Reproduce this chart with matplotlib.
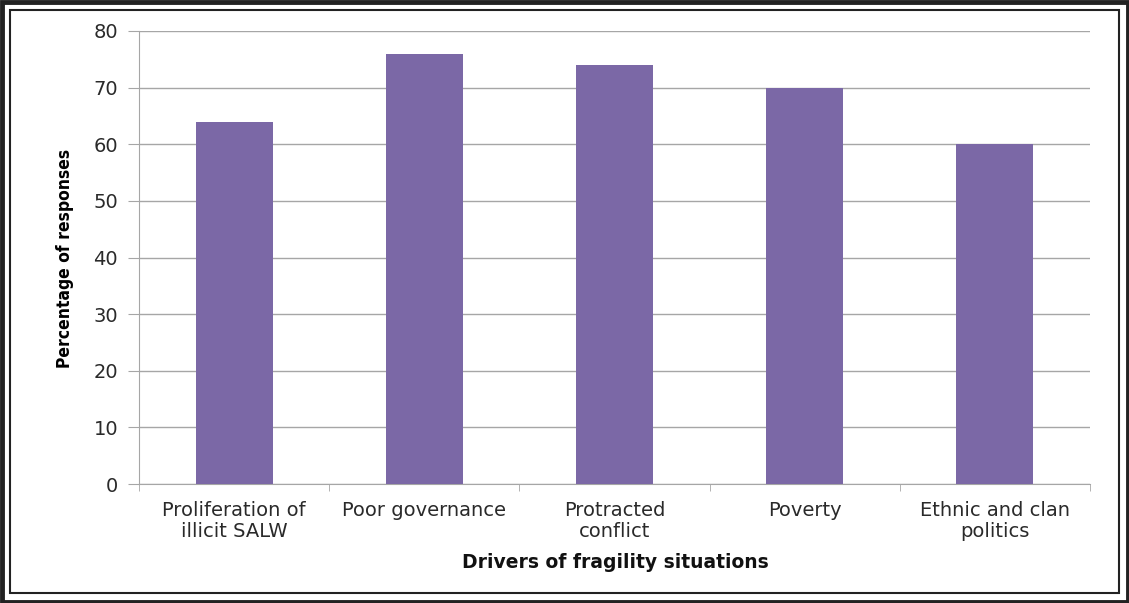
import matplotlib
matplotlib.use("Agg")
import matplotlib.pyplot as plt
from matplotlib.patches import Rectangle

categories = ["Proliferation of\nillicit SALW", "Poor governance", "Protracted\nconflict",
              "Poverty", "Ethnic and clan\npolitics"]
values = [64, 76, 74, 70, 60]
yticks = [0, 10, 20, 30, 40, 50, 60, 70, 80]

W, H = 1129, 603
fig = plt.figure(figsize=(W/100, H/100), dpi=100)
fig.patch.set_facecolor("white")

# frame
fig.patches.append(Rectangle((1.5/W, 1.5/H), 1-3/W, 1-3/H, transform=fig.transFigure,
                             fill=False, edgecolor="#222222", linewidth=3.5))
fig.patches.append(Rectangle((10/W, 10/H), 1-20/W, 1-20/H, transform=fig.transFigure,
                             fill=False, edgecolor="#222222", linewidth=1.5))

ax = fig.add_axes([139/W, 1-484/H, (1090-139)/W, (484-31)/H])
x = list(range(len(categories)))
ax.bar(x, values, width=0.405, color="#7B68A6", zorder=3)
ax.set_xlim(-0.5, len(categories)-0.5)
ax.set_ylim(0, 80)
ax.set_yticks(yticks)
ax.yaxis.grid(True, color="#A6A6A6", linewidth=1.0, zorder=0)
for s in ["top", "right"]:
    ax.spines[s].set_visible(False)
ax.spines["left"].set_color("#A6A6A6")
ax.spines["bottom"].set_color("#A6A6A6")
ax.tick_params(axis="y", length=8, color="#A6A6A6", labelsize=14, pad=7, labelcolor="#2a2a2a")
ax.set_xticks(x)
ax.set_xticklabels(categories, fontsize=14, color="#2a2a2a", linespacing=1.15)
ax.tick_params(axis="x", length=0, pad=12)
# boundary ticks
ax.set_xticks([i-0.5 for i in range(len(categories)+1)], minor=True)
ax.tick_params(axis="x", which="minor", length=5, color="#A6A6A6")

fig.text(65/W, 1-258/H, "Percentage of responses", rotation=90, ha="center", va="center",
         fontsize=12.5, fontweight="bold", fontstretch="condensed", family="DejaVu Sans")
fig.text(615/W, 1-562/H, "Drivers of fragility situations", ha="center", va="center",
         fontsize=13.5, fontweight="bold", color="#111111")

fig.savefig("out.png", dpi=100)
